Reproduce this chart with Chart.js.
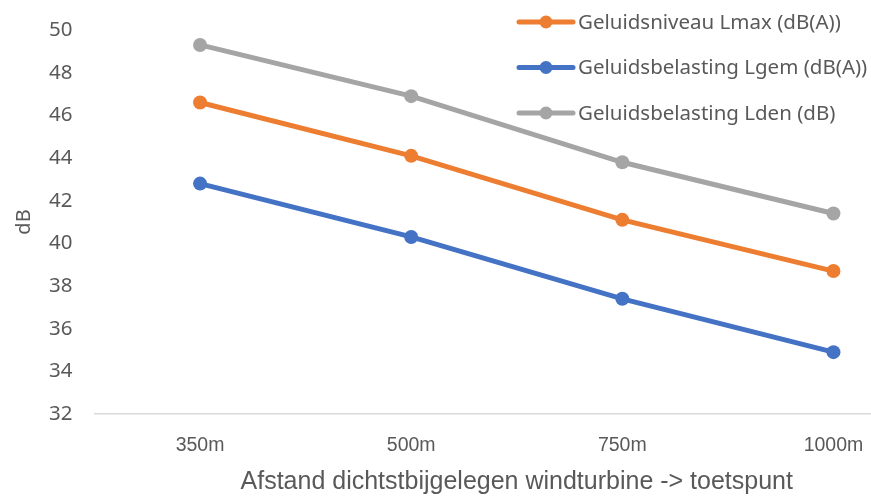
<!DOCTYPE html>
<html>
<head>
<meta charset="utf-8">
<script src="https://cdn.jsdelivr.net/npm/chart.js@4/dist/chart.umd.min.js"></script>
<style>
  html, body { margin: 0; padding: 0; background: #fff; overflow: hidden; }
  canvas { display: block; }
</style>
</head>
<body>
<canvas id="c" width="946" height="497"></canvas>
<script>
// Afstanden tot de dichtstbijzijnde windturbine
const categories = ['350m', '500m', '750m', '1000m'];
const lmax = [46.6, 44.1, 41.1, 38.7];   // Geluidsniveau Lmax (dB(A))
const lgem = [42.8, 40.3, 37.4, 34.9];   // Geluidsbelasting Lgem (dB(A))
const lden = [49.3, 46.9, 43.8, 41.4];   // Geluidsbelasting Lden (dB)
const seriesNames = [
  'Geluidsniveau Lmax (dB(A))',
  'Geluidsbelasting Lgem (dB(A))',
  'Geluidsbelasting Lden (dB)'
];
const yTicks = [32, 34, 36, 38, 40, 42, 44, 46, 48, 50];

const colors = ['#ED7D31', '#4472C4', '#A5A5A5'];
const textColor = '#595959';
const sans = '"Noto Sans", "Open Sans", sans-serif';
const narrow = '"Liberation Sans", Arial, sans-serif';

function ds(label, data, color) {
  return {
    label, data,
    borderColor: color, backgroundColor: color,
    borderWidth: 5, pointRadius: 7, pointHoverRadius: 7,
    pointBorderWidth: 0, tension: 0
  };
}

// Legenda rechtsboven, verticaal gestapeld
const sideLegend = {
  id: 'sideLegend',
  afterDraw(chart) {
    const ctx = chart.ctx;
    const x0 = 519, x1 = 573, yStart = 22, step = 45.5;
    ctx.save();
    chart.data.datasets.forEach((d, i) => {
      const y = yStart + i * step;
      ctx.strokeStyle = d.borderColor;
      ctx.lineWidth = 5;
      ctx.lineCap = 'round';
      ctx.beginPath(); ctx.moveTo(x0, y); ctx.lineTo(x1, y); ctx.stroke();
      ctx.fillStyle = d.borderColor;
      ctx.beginPath(); ctx.arc((x0 + x1) / 2, y, 6.5, 0, Math.PI * 2); ctx.fill();
      ctx.fillStyle = textColor;
      ctx.font = '20.5px ' + sans;
      ctx.textBaseline = 'middle';
      ctx.textAlign = 'left';
      ctx.fillText(d.label, 578, y + 1);
    });
    ctx.restore();
  }
};

new Chart(document.getElementById('c'), {
  type: 'line',
  data: {
    labels: categories,
    datasets: [
      ds(seriesNames[0], lmax, colors[0]),
      ds(seriesNames[1], lgem, colors[1]),
      ds(seriesNames[2], lden, colors[2])
    ]
  },
  options: {
    responsive: false,
    animation: false,
    layout: { padding: { top: 30, right: 0, bottom: 0, left: 0 } },
    plugins: { legend: { display: false }, tooltip: { enabled: false } },
    scales: {
      x: {
        offset: true,
        grid: { display: false, drawTicks: false },
        border: { display: true, color: '#D9D9D9', width: 1.5 },
        ticks: { color: textColor, font: { family: narrow, size: 19.5 }, padding: 20, maxRotation: 0 },
        title: { display: true, text: 'Afstand dichtstbijgelegen windturbine -> toetspunt', color: textColor,
                 font: { family: narrow, size: 25 }, padding: { top: 10, bottom: 0 } },
        afterFit(s) { s.height = 83; s.paddingLeft = 0; s.paddingRight = 0; }
      },
      y: {
        min: 32, max: 50,
        afterBuildTicks(s) { s.ticks = yTicks.map(v => ({ value: v })); },
        grid: { display: false, drawTicks: false },
        border: { display: false },
        ticks: { color: textColor, font: { family: sans, size: 20.5 }, padding: 22 },
        title: { display: true, text: 'dB', color: textColor,
                 font: { family: sans, size: 20 }, padding: { top: 12, bottom: 0 } },
        afterFit(s) { s.width = 94.5; s.paddingTop = 0; s.paddingBottom = 0; }
      }
    }
  },
  plugins: [sideLegend]
});
</script>
</body>
</html>
